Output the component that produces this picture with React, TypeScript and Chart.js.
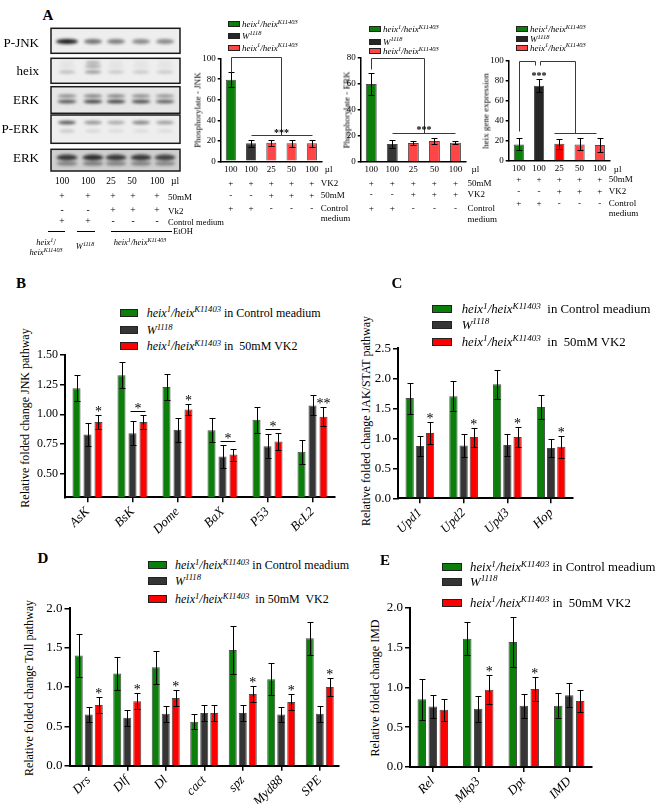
import React, { useEffect, useRef } from 'react';
import { Chart, registerables } from 'chart.js';
Chart.register(...registerables);

const FONT = "'Liberation Serif', 'Times New Roman', Times, serif";
const GREEN = '#0a7f0a';
const DARK = '#353535';
const BLACKBAR = '#262626';
const RED = '#ff0000';
const RED_LIGHT = '#ff4545';

// ---------- Panel A data ----------
const volumeLabels = ['100', '100', '25', '50', '100'];
const pJnkValues = [79.5, 17.5, 18, 17.5, 17.5];
const pJnkErrors = [7.5, 3.7, 2.7, 3.7, 3.7];
const pErkValues = [59.5, 13.6, 14.3, 15.9, 14.5];
const pErkErrors = [8.2, 3.0, 1.7, 2.5, 1.2];
const heixExprValues = [16.3, 75, 17, 16.3, 15.7];
const heixExprErrors = [6, 6.7, 5, 6, 6.7];
const plusAll = ['+', '+', '+', '+', '+'];
const vk2Signs = ['-', '-', '+', '+', '+'];
const controlSigns = ['+', '+', '-', '-', '-'];
const aTicks100 = [0, 20, 40, 60, 80, 100];
const aTicks80 = [0, 20, 40, 60, 80];
// brackets in data coordinates [x1, y1, x2, y2] (x = category index)
const jnkBracket = [[0, 87, 0, 102], [0, 102, 2.5, 102], [2.5, 102, 2.5, 25.6], [1, 25.6, 4, 25.6]];
const jnkSig = [{ x: 2.5, y: 25.6, text: '***' }];
const erkBracket = [[0, 71, 0, 79.2], [0, 79.2, 2.5, 79.2], [2.5, 79.2, 2.5, 22.2], [1, 22.2, 4, 22.2]];
const erkSig = [{ x: 2.5, y: 22.7, text: '***' }];
const heixBracket = [[0, 29.7, 0, 100], [0, 100, 0.8, 100], [0.8, 100, 0.8, 95.7], [1.05, 95.7, 1.05, 100], [1.05, 100, 2.75, 100], [2.75, 100, 2.75, 27.4], [1.75, 27.4, 3.8, 27.4]];
const heixSig = [{ x: 1, y: 83, text: '***' }];

// western blot band intensities per lane
const blotRowNames = ['P-JNK', 'heix', 'ERK', 'P-ERK', 'ERK'];
const pJnkBands = [0.95, 0.55, 0.5, 0.45, 0.45];
const heixBandsLow = [0.25, 0.45, 0.2, 0.2, 0.2];
const heixBandsHigh = [0.06, 0.35, 0.06, 0.06, 0.06];
const erkBandsUpper = [0.5, 0.55, 0.55, 0.5, 0.45];
const erkBandsLower = [0.7, 0.8, 0.8, 0.75, 0.65];
const pErkBands = [0.7, 0.42, 0.32, 0.5, 0.38];
const pErkBandsFaint = [0.2, 0.12, 0.1, 0.1, 0.1];
const erk2Bands = [0.8, 0.85, 0.8, 0.8, 0.75];

// ---------- Panel B (JNK pathway) ----------
const jnkGenes = ['AsK', 'BsK', 'Dome', 'BaX', 'P53', 'BcL2'];
const jnkControl = [1.22, 1.33, 1.23, 0.865, 0.955, 0.685];
const jnkControlErr = [0.11, 0.11, 0.11, 0.1, 0.11, 0.1];
const jnkW1118 = [0.83, 0.84, 0.87, 0.645, 0.73, 1.075];
const jnkW1118Err = [0.1, 0.1, 0.1, 0.1, 0.1, 0.085];
const jnkVK2 = [0.935, 0.935, 1.04, 0.66, 0.77, 0.98];
const jnkVK2Err = [0.06, 0.055, 0.05, 0.05, 0.07, 0.08];
const jnkStars = ['*', '*', '*', '*', '*', '**'];
const jnkStarLines = [false, true, false, true, true, false];
const jnkTicks = [0.5, 0.75, 1.0, 1.25, 1.5];

// ---------- Panel C (JAK/STAT) ----------
const jakGenes = ['Upd1', 'Upd2', 'Upd3', 'Hop'];
const jakControl = [1.67, 1.70, 1.90, 1.52];
const jakControlErr = [0.26, 0.25, 0.24, 0.2];
const jakW1118 = [0.87, 0.88, 0.89, 0.84];
const jakW1118Err = [0.17, 0.19, 0.18, 0.15];
const jakVK2 = [1.09, 1.02, 1.02, 0.86];
const jakVK2Err = [0.19, 0.16, 0.17, 0.18];
const jakStars = ['*', '*', '*', '*'];
const jakTicks = [0, 0.5, 1.0, 1.5, 2.0, 2.5];

// ---------- Panel D (Toll) ----------
const tollGenes = ['Drs', 'Dlf', 'Dl', 'cact', 'spz', 'Myd88', 'SPE'];
const tollControl = [1.40, 1.17, 1.25, 0.56, 1.47, 1.10, 1.62];
const tollControlErr = [0.27, 0.21, 0.21, 0.1, 0.3, 0.2, 0.21];
const tollW1118 = [0.65, 0.61, 0.66, 0.67, 0.67, 0.65, 0.66];
const tollW1118Err = [0.1, 0.1, 0.1, 0.1, 0.1, 0.1, 0.1];
const tollVK2 = [0.77, 0.82, 0.86, 0.67, 0.91, 0.81, 1.00];
const tollVK2Err = [0.1, 0.1, 0.1, 0.1, 0.1, 0.1, 0.11];
const tollStars = ['*', '*', '*', '', '*', '*', '*'];
const ticks0to2 = [0, 0.5, 1.0, 1.5, 2.0];

// ---------- Panel E (IMD) ----------
const imdGenes = ['Rel', 'Mkp3', 'Dpt', 'IMD'];
const imdControl = [0.85, 1.61, 1.57, 0.77];
const imdControlErr = [0.26, 0.21, 0.31, 0.16];
const imdW1118 = [0.76, 0.73, 0.77, 0.90];
const imdW1118Err = [0.15, 0.16, 0.15, 0.15];
const imdVK2 = [0.72, 0.97, 0.98, 0.83];
const imdVK2Err = [0.14, 0.18, 0.15, 0.14];
const imdStars = ['', '*', '*', ''];

type DS = { data: number[]; errors: number[]; color: string | string[] };
type Spec = {
  left: number; top: number; width: number; height: number;
  area: { left: number; right: number; top: number; bottom: number };
  labels: string[];
  datasets: DS[];
  yMin: number; yMax: number; yTicks: number[]; yDecimals: number; yFont: number;
  xFont: number; italic: boolean; rotate: number;
  barPct: number; catPct: number; xTickMarks: boolean; xPad: number;
  yTickLen: number; capW: number; axisW: number;
  extra?: any[];
};

function errorPlugin(s: Spec) {
  return {
    id: 'errs',
    afterDatasetsDraw(chart: any) {
      const ctx = chart.ctx; const y = chart.scales.y;
      ctx.save(); ctx.strokeStyle = '#000'; ctx.lineWidth = 1;
      s.datasets.forEach((d, di) => {
        const meta = chart.getDatasetMeta(di);
        meta.data.forEach((el: any, i: number) => {
          const e = d.errors[i]; if (!e) return;
          const x = Math.round(el.x) + 0.5;
          const t = Math.round(y.getPixelForValue(d.data[i] + e)) + 0.5;
          const b = Math.round(y.getPixelForValue(d.data[i] - e)) + 0.5;
          ctx.beginPath();
          ctx.moveTo(x, t); ctx.lineTo(x, b);
          ctx.moveTo(x - s.capW, t); ctx.lineTo(x + s.capW, t);
          ctx.moveTo(x - s.capW, b); ctx.lineTo(x + s.capW, b);
          ctx.stroke();
        });
      });
      ctx.restore();
    },
  };
}

function starPlugin(s: Spec, stars: string[], lines: boolean[] | null) {
  return {
    id: 'stars',
    afterDatasetsDraw(chart: any) {
      const ctx = chart.ctx; const y = chart.scales.y;
      const red = s.datasets[2], dark = s.datasets[1];
      const mr = chart.getDatasetMeta(2), md = chart.getDatasetMeta(1);
      ctx.save(); ctx.fillStyle = '#000'; ctx.strokeStyle = '#000'; ctx.lineWidth = 1;
      ctx.font = `14px ${FONT}`; ctx.textAlign = 'center'; ctx.textBaseline = 'alphabetic';
      stars.forEach((st, i) => {
        if (!st) return;
        const rt = y.getPixelForValue(red.data[i] + red.errors[i]);
        const xr = mr.data[i].x;
        if (lines && lines[i]) {
          const dt = y.getPixelForValue(dark.data[i] + dark.errors[i]);
          const ly = Math.round(Math.min(rt, dt) - 4) + 0.5;
          const xd = md.data[i].x;
          ctx.beginPath(); ctx.moveTo(xd - 2, ly); ctx.lineTo(xr + 2, ly); ctx.stroke();
          ctx.fillText(st, (xd + xr) / 2, ly + 1);
        } else {
          ctx.fillText(st, xr, rt + 1);
        }
      });
      ctx.restore();
    },
  };
}

function bracketPlugin(segs: number[][], sig: { x: number; y: number; text: string }[]) {
  return {
    id: 'brackets',
    afterDatasetsDraw(chart: any) {
      const ctx = chart.ctx; const xs = chart.scales.x; const ys = chart.scales.y;
      const p0 = xs.getPixelForValue(0), p1 = xs.getPixelForValue(1);
      const px = (v: number) => p0 + (p1 - p0) * v;
      ctx.save(); ctx.strokeStyle = '#3a3a3a'; ctx.lineWidth = 1;
      ctx.beginPath();
      segs.forEach(([x1, y1, x2, y2]) => {
        ctx.moveTo(Math.round(px(x1)) + 0.5, Math.round(ys.getPixelForValue(y1)) + 0.5);
        ctx.lineTo(Math.round(px(x2)) + 0.5, Math.round(ys.getPixelForValue(y2)) + 0.5);
      });
      ctx.stroke();
      ctx.fillStyle = '#000'; ctx.font = `bold 10px ${FONT}`; ctx.textAlign = 'center'; ctx.textBaseline = 'alphabetic';
      sig.forEach((st) => ctx.fillText(st.text, px(st.x), ys.getPixelForValue(st.y) + 1));
      ctx.restore();
    },
  };
}

type Row = { y: number; cells: string[] | null; label: string; gap: number };
function rowsPlugin(top: number, rows: Row[]) {
  return {
    id: 'rows',
    afterDraw(chart: any) {
      const ctx = chart.ctx; const xs = chart.scales.x;
      const n = chart.data.labels.length;
      ctx.save(); ctx.fillStyle = '#000'; ctx.font = `9px ${FONT}`; ctx.textBaseline = 'middle';
      rows.forEach((r) => {
        const yy = r.y - top;
        if (r.cells) {
          ctx.textAlign = 'center';
          r.cells.forEach((c, i) => ctx.fillText(c, xs.getPixelForValue(i), yy));
        }
        if (r.label) {
          ctx.textAlign = 'left';
          ctx.fillText(r.label, xs.getPixelForValue(n - 1) + r.gap, yy);
        }
      });
      ctx.restore();
    },
  };
}

function BarPanel({ spec }: { spec: Spec }) {
  const ref = useRef<HTMLCanvasElement>(null);
  useEffect(() => {
    const s = spec;
    const chart = new Chart(ref.current as HTMLCanvasElement, {
      type: 'bar',
      data: {
        labels: s.labels,
        datasets: s.datasets.map((d) => ({
          data: d.data,
          backgroundColor: d.color as any,
          borderColor: '#4a4a4a',
          borderWidth: 1,
          barPercentage: s.barPct,
          categoryPercentage: s.catPct,
        })),
      },
      options: {
        animation: false,
        responsive: false,
        maintainAspectRatio: false,
        devicePixelRatio: 1,
        events: [],
        layout: { padding: { top: s.area.top - s.top, right: s.left + s.width - s.area.right, bottom: 0, left: 0 } },
        plugins: { legend: { display: false }, tooltip: { enabled: false } },
        scales: {
          x: {
            offset: true,
            grid: { offset: false, drawOnChartArea: false, drawTicks: s.xTickMarks, tickLength: 5, color: '#000', lineWidth: 1.5 },
            border: { color: '#000', width: s.axisW },
            ticks: {
              color: '#000', autoSkip: false, padding: s.xPad,
              minRotation: s.rotate, maxRotation: s.rotate,
              font: { family: FONT, size: s.xFont, style: s.italic ? 'italic' : 'normal' },
            },
            afterFit: (sc: any) => { sc.height = s.top + s.height - s.area.bottom; },
          },
          y: {
            min: s.yMin, max: s.yMax,
            grid: { drawOnChartArea: false, tickLength: s.yTickLen, color: '#000', lineWidth: 1.5 },
            border: { color: '#000', width: s.axisW },
            ticks: {
              color: '#000', padding: 2,
              font: { family: FONT, size: s.yFont },
              callback: (v: any) => Number(v).toFixed(s.yDecimals),
            },
            afterBuildTicks: (sc: any) => { sc.ticks = s.yTicks.map((v) => ({ value: v })); },
            afterFit: (sc: any) => { sc.width = s.area.left - s.left; },
          },
        },
      } as any,
      plugins: [errorPlugin(s), ...(s.extra ?? [])],
    });
    return () => chart.destroy();
  }, []);
  return (
    <canvas
      ref={ref}
      width={spec.width}
      height={spec.height}
      style={{ position: 'absolute', left: spec.left, top: spec.top, width: spec.width, height: spec.height }}
    />
  );
}

// ---------- specs ----------
const A1_TOP = 48;
const specA1: Spec = {
  left: 195, top: A1_TOP, width: 170, height: 190,
  area: { left: 220.7, right: 322, top: 58.7, bottom: 161.3 },
  labels: volumeLabels,
  datasets: [{ data: pJnkValues, errors: pJnkErrors, color: [GREEN, DARK, RED_LIGHT, RED_LIGHT, RED_LIGHT] }],
  yMin: 0, yMax: 100, yTicks: aTicks100, yDecimals: 0, yFont: 9,
  xFont: 9, italic: false, rotate: 0, barPct: 0.5, catPct: 1, xTickMarks: false, xPad: 3,
  yTickLen: 3, capW: 3, axisW: 1.5,
};
specA1.extra = [
  bracketPlugin(jnkBracket, jnkSig),
  rowsPlugin(A1_TOP, [
    { y: 169.5, cells: null, label: 'µl', gap: 13 },
    { y: 183.3, cells: plusAll, label: 'VK2', gap: 9 },
    { y: 196, cells: vk2Signs, label: '50mM', gap: 9 },
    { y: 208.3, cells: controlSigns, label: 'Control', gap: 9 },
    { y: 218.3, cells: null, label: 'medium', gap: 9 },
  ]),
];

const A2_TOP = 46;
const specA2: Spec = {
  left: 340, top: A2_TOP, width: 170, height: 190,
  area: { left: 360.7, right: 466, top: 57.3, bottom: 161.7 },
  labels: volumeLabels,
  datasets: [{ data: pErkValues, errors: pErkErrors, color: [GREEN, DARK, RED_LIGHT, RED_LIGHT, RED_LIGHT] }],
  yMin: 0, yMax: 80, yTicks: aTicks80, yDecimals: 0, yFont: 9,
  xFont: 9, italic: false, rotate: 0, barPct: 0.52, catPct: 1, xTickMarks: false, xPad: 3,
  yTickLen: 3, capW: 3, axisW: 1.5,
};
specA2.extra = [
  bracketPlugin(erkBracket, erkSig),
  rowsPlugin(A2_TOP, [
    { y: 170, cells: null, label: 'µl', gap: 16 },
    { y: 183.3, cells: plusAll, label: '50mM', gap: 12 },
    { y: 195, cells: vk2Signs, label: 'VK2', gap: 12 },
    { y: 208.3, cells: controlSigns, label: 'Control', gap: 12 },
    { y: 220, cells: null, label: 'medium', gap: 12 },
  ]),
];

const A3_TOP = 50;
const specA3: Spec = {
  left: 488, top: A3_TOP, width: 172, height: 190,
  area: { left: 508.7, right: 610, top: 60.7, bottom: 160.7 },
  labels: volumeLabels,
  datasets: [{ data: heixExprValues, errors: heixExprErrors, color: [GREEN, BLACKBAR, RED, RED_LIGHT, RED_LIGHT] }],
  yMin: 0, yMax: 100, yTicks: aTicks100, yDecimals: 0, yFont: 9,
  xFont: 9, italic: false, rotate: 0, barPct: 0.5, catPct: 1, xTickMarks: false, xPad: 3,
  yTickLen: 3, capW: 3, axisW: 1.5,
};
specA3.extra = [
  bracketPlugin(heixBracket, heixSig),
  rowsPlugin(A3_TOP, [
    { y: 170, cells: null, label: 'µl', gap: 14 },
    { y: 180, cells: plusAll, label: '50mM', gap: 9 },
    { y: 191.7, cells: vk2Signs, label: 'VK2', gap: 9 },
    { y: 204, cells: controlSigns, label: 'Control', gap: 9 },
    { y: 213.5, cells: null, label: 'medium', gap: 9 },
  ]),
];

const specB: Spec = {
  left: 30, top: 340, width: 310, height: 200,
  area: { left: 65, right: 335, top: 355, bottom: 497.3 },
  labels: jnkGenes,
  datasets: [
    { data: jnkControl, errors: jnkControlErr, color: GREEN },
    { data: jnkW1118, errors: jnkW1118Err, color: DARK },
    { data: jnkVK2, errors: jnkVK2Err, color: RED },
  ],
  yMin: 0.3, yMax: 1.5, yTicks: jnkTicks, yDecimals: 2, yFont: 12,
  xFont: 13, italic: true, rotate: 45, barPct: 0.73, catPct: 0.733, xTickMarks: true, xPad: 2,
  yTickLen: 5, capW: 3, axisW: 2,
};
specB.extra = [starPlugin(specB, jnkStars, jnkStarLines)];

const specC: Spec = {
  left: 355, top: 335, width: 235, height: 210,
  area: { left: 398, right: 573, top: 348.3, bottom: 498.3 },
  labels: jakGenes,
  datasets: [
    { data: jakControl, errors: jakControlErr, color: GREEN },
    { data: jakW1118, errors: jakW1118Err, color: DARK },
    { data: jakVK2, errors: jakVK2Err, color: RED },
  ],
  yMin: 0, yMax: 2.5, yTicks: jakTicks, yDecimals: 1, yFont: 13,
  xFont: 13, italic: true, rotate: 45, barPct: 0.81, catPct: 0.7, xTickMarks: true, xPad: 2,
  yTickLen: 5, capW: 3, axisW: 2,
};
specC.extra = [starPlugin(specC, jakStars, null)];

const specD: Spec = {
  left: 35, top: 595, width: 310, height: 209,
  area: { left: 69.5, right: 339, top: 608.3, bottom: 765.7 },
  labels: tollGenes,
  datasets: [
    { data: tollControl, errors: tollControlErr, color: GREEN },
    { data: tollW1118, errors: tollW1118Err, color: DARK },
    { data: tollVK2, errors: tollVK2Err, color: RED },
  ],
  yMin: 0, yMax: 2.0, yTicks: ticks0to2, yDecimals: 1, yFont: 13,
  xFont: 13, italic: true, rotate: 45, barPct: 0.8, catPct: 0.78, xTickMarks: true, xPad: 2,
  yTickLen: 5, capW: 3, axisW: 2,
};
specD.extra = [starPlugin(specD, tollStars, null)];

const specE: Spec = {
  left: 375, top: 595, width: 225, height: 209,
  area: { left: 410, right: 592, top: 607.7, bottom: 767 },
  labels: imdGenes,
  datasets: [
    { data: imdControl, errors: imdControlErr, color: GREEN },
    { data: imdW1118, errors: imdW1118Err, color: DARK },
    { data: imdVK2, errors: imdVK2Err, color: RED },
  ],
  yMin: 0, yMax: 2.0, yTicks: ticks0to2, yDecimals: 1, yFont: 13,
  xFont: 13, italic: true, rotate: 45, barPct: 0.77, catPct: 0.725, xTickMarks: true, xPad: 2,
  yTickLen: 5, capW: 3, axisW: 2,
};
specE.extra = [starPlugin(specE, imdStars, null)];

// ---------- text helpers ----------
function T({ x, y, size = 10, align = 'center', bold = false, italic = false, rot = 0, children }: any) {
  const tx = align === 'center' ? '-50%' : align === 'right' ? '-100%' : '0';
  return (
    <div
      style={{
        position: 'absolute', left: x, top: y, fontSize: size, lineHeight: 1, whiteSpace: 'pre',
        fontWeight: bold ? 'bold' : 'normal', fontStyle: italic ? 'italic' : 'normal',
        transform: `translate(${tx}, -50%)${rot ? ` rotate(${rot}deg)` : ''}`,
      }}
    >
      {children}
    </div>
  );
}

const Sup = ({ children }: any) => (
  <span style={{ fontSize: '0.72em', position: 'relative', top: '-0.5em' }}>{children}</span>
);
const Heix = ({ suffix = '' }: { suffix?: string }) => (
  <>
    <i>heix</i><Sup><i>1</i></Sup><i>/heix</i><Sup><i>K11403</i></Sup>{suffix}
  </>
);
const W1118 = () => (<><i>W</i><Sup><i>1118</i></Sup></>);

function Legend({ sx, sw, sh, tx, ys, size, colors, items }: any) {
  return (
    <>
      {ys.map((y: number, i: number) => (
        <React.Fragment key={i}>
          <div style={{ position: 'absolute', left: sx, top: y - sh / 2, width: sw, height: sh, background: colors[i], border: '1px solid #222', boxSizing: 'border-box' }} />
          <div style={{ position: 'absolute', left: tx, top: y, transform: 'translateY(-50%)', fontSize: size, lineHeight: 1, whiteSpace: 'pre' }}>{items[i]}</div>
        </React.Fragment>
      ))}
    </>
  );
}

// ---------- western blot ----------
const blotBoxes = [[28.3, 53.3], [58.3, 83.3], [86.7, 113.3], [115, 143.3], [149.3, 171]];
const laneX = [67, 93, 116, 141, 165];

function Blot() {
  const ref = useRef<HTMLCanvasElement>(null);
  useEffect(() => {
    const ctx = (ref.current as HTMLCanvasElement).getContext('2d') as CanvasRenderingContext2D;
    ctx.clearRect(0, 0, 200, 180);
    const bandSets: { y: number; h: number; w: number; v: number[] }[][] = [
      [{ y: 41.5, h: 5, w: 18, v: pJnkBands }],
      [{ y: 72, h: 3, w: 17, v: heixBandsLow }, { y: 66.5, h: 3, w: 17, v: heixBandsHigh }, { y: 62.5, h: 2.5, w: 15, v: heixBandsHigh }],
      [{ y: 96, h: 3, w: 19, v: erkBandsUpper }, { y: 101.5, h: 3.5, w: 19, v: erkBandsLower }],
      [{ y: 122.5, h: 3.5, w: 18, v: pErkBands }, { y: 131, h: 3, w: 16, v: pErkBandsFaint }],
      [{ y: 157.5, h: 6, w: 21, v: erk2Bands }, { y: 163.5, h: 4, w: 21, v: erk2Bands.map((a) => a * 0.55) }],
    ];
    blotBoxes.forEach((b, r) => {
      const x0 = 51, w = 129, h = b[1] - b[0];
      ctx.fillStyle = r === 4 ? '#cfcfcf' : r === 2 ? '#e6e6e6' : '#eeeeee';
      ctx.fillRect(x0, b[0], w, h);
      ctx.save();
      ctx.beginPath(); ctx.rect(x0, b[0], w, h); ctx.clip();
      ctx.filter = 'blur(1.4px)';
      bandSets[r].forEach((bs) => {
        bs.v.forEach((a, i) => {
          const ww = r === 0 && i === 0 ? bs.w + 4 : bs.w;
          ctx.fillStyle = `rgba(15,15,15,${a})`;
          ctx.beginPath();
          ctx.ellipse(laneX[i], bs.y, ww / 2, bs.h / 2, 0, 0, Math.PI * 2);
          ctx.fill();
        });
      });
      ctx.restore();
      ctx.strokeStyle = '#1a1a1a'; ctx.lineWidth = 1.5;
      ctx.strokeRect(x0, b[0], w, h);
    });
  }, []);
  return <canvas ref={ref} width={200} height={180} style={{ position: 'absolute', left: 0, top: 0, width: 200, height: 180 }} />;
}

const blotLabelY = [41.7, 70, 99.3, 128.3, 157];
const blotColX = [62, 88, 111, 132, 157];
const blotPlusX = [62, 88, 113, 133, 157];

export default function App() {
  const legendItemsB = [<Heix suffix=" in Control meadium" />, <W1118 />, <Heix suffix=" in  50mM VK2" />];
  const legendItemsC = [<Heix suffix="  in Control meadium" />, <W1118 />, <Heix suffix="  in  50mM VK2" />];
  const legendItemsD = [<Heix suffix=" in Control meadium" />, <W1118 />, <Heix suffix="  in 50mM  VK2" />];
  const legendItemsA = [<Heix />, <W1118 />, <Heix />];
  const cols3 = [GREEN, DARK, RED];
  return (
    <div style={{ position: 'absolute', left: 0, top: 0, width: 660, height: 804, background: '#fff', overflow: 'hidden', fontFamily: FONT, color: '#000' }}>
      {/* Panel A */}
      <T x={48} y={15} size={15} bold>A</T>
      <Blot />
      {blotRowNames.map((n, i) => (
        <T key={i} x={39} y={blotLabelY[i]} size={13} align="right">{n}</T>
      ))}
      {volumeLabels.map((v, i) => <T key={'v' + i} x={blotColX[i]} y={181.7} size={9.5}>{v}</T>)}
      <T x={171} y={181.7} size={9.5} align="left">µl</T>
      {plusAll.map((v, i) => <T key={'p' + i} x={blotPlusX[i]} y={196.7} size={9.5}>{v}</T>)}
      <T x={168} y={196.7} size={9} align="left">50mM</T>
      {vk2Signs.map((v, i) => <T key={'k' + i} x={blotPlusX[i]} y={210.7} size={9.5}>{v}</T>)}
      <T x={168} y={210.7} size={9} align="left">Vk2</T>
      {controlSigns.map((v, i) => <T key={'c' + i} x={blotPlusX[i]} y={221.7} size={9.5}>{v}</T>)}
      <T x={168} y={221.7} size={8.5} align="left">Control medium</T>
      <div style={{ position: 'absolute', left: 47.7, top: 231, width: 17.3, height: 1, background: '#000' }} />
      <div style={{ position: 'absolute', left: 77.3, top: 231, width: 17.7, height: 1, background: '#000' }} />
      <div style={{ position: 'absolute', left: 111, top: 231, width: 61, height: 1, background: '#000' }} />
      <T x={173} y={231} size={8.5} align="left">EtOH</T>
      <T x={46} y={241.7} size={8.5}><i>heix</i><Sup><i>1</i></Sup>/</T>
      <T x={46} y={251.7} size={8.5}><i>heix</i><Sup><i>K11403</i></Sup></T>
      <T x={85} y={246} size={8.5}><W1118 /></T>
      <T x={140} y={241.7} size={8.5}><Heix /></T>

      <BarPanel spec={specA1} />
      <BarPanel spec={specA2} />
      <BarPanel spec={specA3} />
      <Legend sx={228} sw={12} sh={6} tx={242} ys={[24, 35.5, 47.7]} size={9} colors={[GREEN, BLACKBAR, RED_LIGHT]} items={legendItemsA} />
      <Legend sx={369} sw={12} sh={6} tx={383} ys={[29, 41.7, 51]} size={9} colors={[GREEN, BLACKBAR, RED_LIGHT]} items={legendItemsA} />
      <Legend sx={516} sw={12} sh={6} tx={530} ys={[29.3, 39.3, 47.7]} size={9} colors={[GREEN, BLACKBAR, RED_LIGHT]} items={legendItemsA} />
      <T x={198} y={110} size={9} rot={-90}>Phosphorylate - JNK</T>
      <T x={346.5} y={109.5} size={9} rot={-90}>Phosphorylate - ERK</T>
      <T x={485.5} y={111} size={9} rot={-90}>heix gene expression</T>

      {/* Panel B */}
      <T x={21} y={283} size={15} bold>B</T>
      <Legend sx={120} sw={18} sh={8} tx={146.7} ys={[312.7, 330, 346]} size={12} colors={cols3} items={legendItemsB} />
      <T x={25} y={418} size={12} rot={-90}>Relative folded change JNK pathway</T>
      <BarPanel spec={specB} />

      {/* Panel C */}
      <T x={397} y={283} size={15} bold>C</T>
      <Legend sx={432} sw={20} sh={8} tx={461.7} ys={[309.3, 325, 341.7]} size={12.8} colors={cols3} items={legendItemsC} />
      <T x={366} y={421} size={12} rot={-90}>Relative folded change JAK/STAT pathway</T>
      <BarPanel spec={specC} />

      {/* Panel D */}
      <T x={43} y={558} size={15} bold>D</T>
      <Legend sx={148} sw={19} sh={8} tx={175} ys={[565, 580.7, 599]} size={12} colors={cols3} items={legendItemsD} />
      <T x={29} y={688} size={12} rot={-90}>Relative folded change Toll pathway</T>
      <BarPanel spec={specD} />

      {/* Panel E */}
      <T x={385} y={560} size={15} bold>E</T>
      <Legend sx={442} sw={20} sh={8} tx={470} ys={[567.3, 581.7, 602.7]} size={12.8} colors={cols3} items={legendItemsB} />
      <T x={375} y={688} size={12} rot={-90}>Relative folded change IMD</T>
      <BarPanel spec={specE} />
    </div>
  );
}
